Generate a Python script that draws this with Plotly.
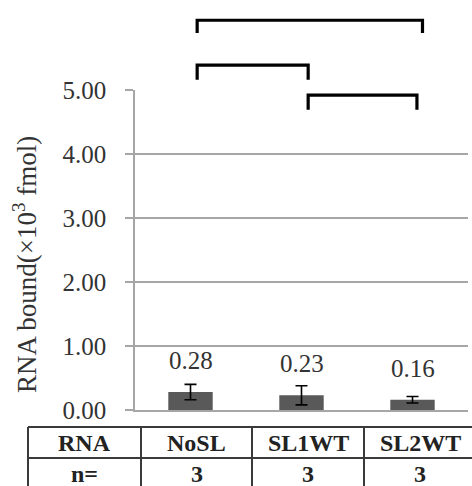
import plotly.graph_objects as go

# ---- data ----
categories = ["NoSL", "SL1WT", "SL2WT"]
values = [0.28, 0.23, 0.16]
errors = [0.12, 0.15, 0.05]
n_values = [3, 3, 3]
table_head = "RNA"
table_n_label = "n="
y_title = "RNA bound(×10<sup>3</sup> fmol)"
y_ticks = [0, 1, 2, 3, 4, 5]
# significance brackets: (start category pos, end category pos, top value, leg bottom value)
brackets = [(0.06, 2.09, 6.09, 5.89), (0.06, 1.06, 5.39, 5.16), (1.06, 2.04, 4.92, 4.69)]

FONT = "Liberation Serif"
YMAX = 5.0
ncat = len(categories)

fig = go.Figure()
fig.add_trace(go.Bar(
    x=list(range(ncat)), y=values, width=0.4,
    marker=dict(color="#595959", line=dict(width=0)),
    error_y=dict(type="data", array=errors, visible=True, color="#000000",
                 thickness=1.6, width=6),
    showlegend=False,
))

# data labels
for i, v in enumerate(values):
    fig.add_annotation(x=i, y=v, text=f"{v:.2f}", showarrow=False,
                       yanchor="bottom", yshift=16,
                       font=dict(family=FONT, size=25, color="#333333"))

def cx(pos):
    return (pos + 0.5) / ncat

# brackets
for (a, b, top, bot) in brackets:
    fig.add_shape(type="path", xref="x domain", yref="y domain",
                  path=f"M {cx(a)} {bot/YMAX} L {cx(a)} {top/YMAX} L {cx(b)} {top/YMAX} L {cx(b)} {bot/YMAX}",
                  line=dict(color="#000000", width=3.2))

# layout geometry (px)
L, T = 135, 90
W, H = 333, 320
def px(xp):
    return (xp - L) / W
def py(yp):
    return (T + H - yp) / H

# y-axis title
fig.add_annotation(xref="paper", yref="paper", x=px(25), y=py(265),
                   text=y_title, textangle=-90, showarrow=False,
                   xanchor="center", yanchor="middle",
                   font=dict(family=FONT, size=27, color="#333333"))

# table below
tbl_color = "#3a3a3a"
col_edges = [28, 141, 252, 364, 476]
row_edges = [427, 458, 492]
for ye in row_edges[:2]:
    fig.add_shape(type="line", xref="paper", yref="paper",
                  x0=px(col_edges[0]), x1=px(col_edges[-1]), y0=py(ye), y1=py(ye),
                  line=dict(color=tbl_color, width=2))
for xe in col_edges[:-1]:
    fig.add_shape(type="line", xref="paper", yref="paper",
                  x0=px(xe), x1=px(xe), y0=py(row_edges[0]), y1=py(row_edges[-1]),
                  line=dict(color=tbl_color, width=2))

row1 = [table_head] + categories
row2 = [table_n_label] + [str(n) for n in n_values]
row_centers = [443, 474]
for r, row in enumerate([row1, row2]):
    for c, txt in enumerate(row):
        xc = (col_edges[c] + col_edges[c + 1]) / 2
        fig.add_annotation(xref="paper", yref="paper", x=px(xc), y=py(row_centers[r]),
                           text=f"<b>{txt}</b>", showarrow=False,
                           xanchor="center", yanchor="middle",
                           font=dict(family=FONT, size=24, color="#222222"))

fig.update_layout(
    width=472, height=486,
    margin=dict(l=L, r=472 - L - W, t=T, b=486 - T - H),
    plot_bgcolor="white", paper_bgcolor="white",
    bargap=0.6,
    xaxis=dict(range=[-0.5, ncat - 0.5], showticklabels=False, showgrid=False,
               showline=True, linecolor="#a6a6a6", linewidth=1.6, zeroline=False,
               ticks=""),
    yaxis=dict(range=[0, YMAX], tickvals=y_ticks, tickformat=".2f",
               showgrid=True, gridcolor="#a6a6a6", gridwidth=1.6,
               showline=True, linecolor="#a6a6a6", linewidth=1.6,
               ticks="outside", ticklen=8, tickcolor="#a6a6a6", tickwidth=1.6,
               ticklabelstandoff=14, zeroline=False,
               tickfont=dict(family=FONT, size=25, color="#333333")),
)

fig.write_html("out.html")
